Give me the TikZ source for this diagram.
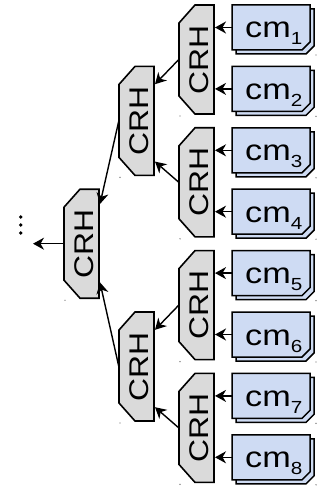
\documentclass[tikz,border=0pt]{standalone}
\usepackage{graphicx}
\usepackage{fontspec}
\setmainfont{Liberation Sans}
\usetikzlibrary{arrows.meta,calc}
\definecolor{crhgray}{RGB}{218,218,218}
\definecolor{docblue}{RGB}{206,219,243}

% rotated hash label and document labels
\newcommand\crhlabel{\fontsize{27}{30}\selectfont\rotatebox{90}{\scalebox{1.18}[1]{CRH}}}
\newcommand\cmlabel[1]{{\fontsize{29}{32}\selectfont\scalebox{1.18}[1]{cm}}\raisebox{-7pt}{\fontsize{17.5}{20}\selectfont\scalebox{1.18}[1]{#1}}}

% hash block: name, left x, centre y
\newcommand\crhblock[3]{%
  \path[crhshape] (#2,#3-54.5+18) -- (#2+16,#3-54.5) -- (#2+35,#3-54.5)
    -- (#2+35,#3+54.5) -- (#2+16,#3+54.5) -- (#2,#3+54.5-18) -- cycle;
  \node[crhnode] (#1) at (#2+17.5,#3) {\hspace*{5pt}\crhlabel};
  \fill[speck] (#2+1,#3+56.5) circle (0.7pt);
}

% stacked document: name, left x, top y, index
\newcommand\docblock[4]{%
  \path[docshape] (#2+4,#3+4) -- (#2+82,#3+4) -- (#2+82,#3+41)
    -- (#2+74,#3+49) -- (#2+4,#3+49) -- cycle;
  \fill (#2+74,#3+49) -- (#2+82,#3+41) -- (#2+76,#3+47) -- cycle;
  \path[docshape] (#2,#3) -- (#2+78,#3) -- (#2+78,#3+37)
    -- (#2+70,#3+45) -- (#2,#3+45) -- cycle;
  \fill (#2+70,#3+45) -- (#2+78,#3+37) -- (#2+73,#3+42) -- cycle;
  \node[docnode] (#1) at (#2+39,#3+22.5) {};
  \node[doclabel] (#1-t) at (#2+13,#3+33) {\cmlabel{#4}};
  \fill[speck] (#2+84,#3+50) circle (0.7pt);
}

\begin{document}
\begin{tikzpicture}[x=1pt,y=-1pt,
  edge/.style={line width=1.4pt,-{Stealth[length=11pt,width=12pt,inset=3.5pt]}},
  crhnode/.style={minimum width=35pt,minimum height=109pt,inner sep=0pt},
  crhshape/.style={draw=black,line width=1.6pt,fill=crhgray},
  docshape/.style={draw=black,line width=1.5pt,fill=docblue},
  docnode/.style={minimum width=78pt,minimum height=45pt,inner sep=0pt},
  doclabel/.style={inner sep=0pt,anchor=base west},
  speck/.style={fill=black!60}
]
\useasboundingbox (0,0) rectangle (326,486);

% leaf documents
\foreach \i in {1,...,8}{
  \pgfmathsetmacro\t{5+61.4*(\i-1)}
  \docblock{cm\i}{232}{\t}{\i}
}

% first level of hashes
\foreach \j in {1,...,4}{
  \pgfmathsetmacro\c{59.5+122.8*(\j-1)}
  \crhblock{a\j}{179}{\c}
}

% second level
\crhblock{b1}{119}{120.9}
\crhblock{b2}{119}{366.5}

% root
\crhblock{r}{64}{243.7}

% documents into first-level hashes
\foreach \i/\p in {1/1,2/1,3/2,4/2,5/3,6/3,7/4,8/4}{
  \draw[edge] (cm\i.west) -- ([xshift=0.8pt]a\p.east |- cm\i.west);
}

% first level into second level
\draw[edge] (a1.west) -- ($(b1.north east)+(0.8,18)$);
\draw[edge] (a2.west) -- ($(b1.south east)+(0.8,-14)$);
\draw[edge] (a3.west) -- ($(b2.north east)+(0.8,18)$);
\draw[edge] (a4.west) -- ($(b2.south east)+(0.8,-14)$);

% second level into root
\draw[edge] (b1.west) -- ($(r.north east)+(0.8,15)$);
\draw[edge] (b2.west) -- ($(r.south east)+(0.8,-16)$);

% output of the root
\coordinate (out) at (33,243.7);
\draw[edge] (r.west) -- (out);

% continuation dots
\foreach \y in {217,225,233}{
  \fill (20.7,\y) circle (1.9pt);
}
\end{tikzpicture}
\end{document}
